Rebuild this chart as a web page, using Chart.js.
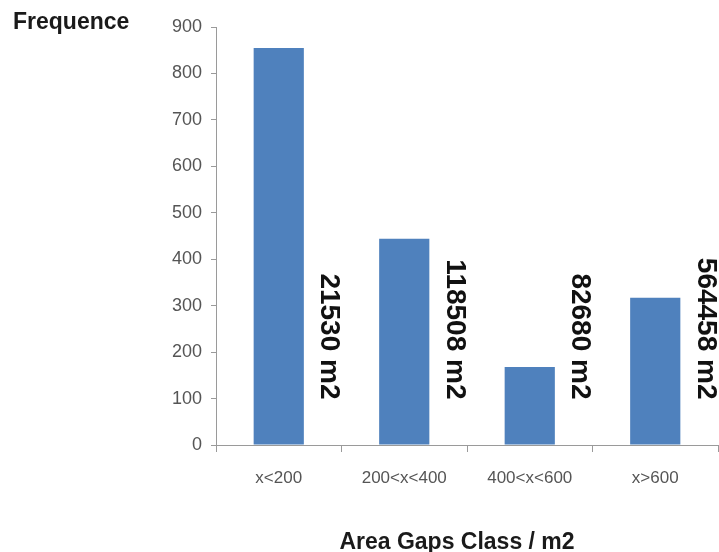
<!DOCTYPE html>
<html>
<head>
<meta charset="utf-8">
<title>Area Gaps Class</title>
<script src="https://cdn.jsdelivr.net/npm/chart.js@4/dist/chart.umd.min.js"></script>
<style>
  html, body { margin: 0; padding: 0; background: #ffffff; }
  #wrap { width: 719px; height: 552px; position: relative; }
</style>
</head>
<body>
<div id="wrap"><canvas id="chart" width="719" height="552"></canvas></div>
<script>
// Gap-size classes and how many gaps fall into each
const categories = ['x<200', '200<x<400', '400<x<600', 'x>600'];
const frequency = [855, 444, 168, 317];
// Total gap area per class, printed beside each bar
const totalArea = [21530, 118508, 82680, 564458];
const yTicks = { min: 0, max: 900, step: 100 };

const axisColor = '#9a9a9a';
const fontFamily = "'Liberation Sans', Arial, sans-serif";
const titleFont = "bold 23px " + fontFamily;

// Rotated area labels to the right of every bar, plus the two axis captions
const captions = {
  id: 'captions',
  afterDatasetsDraw(chart) {
    const ctx = chart.ctx;
    const meta = chart.getDatasetMeta(0);
    const yScale = chart.scales.y;
    const yEnd = yScale.getPixelForValue(98);
    ctx.save();
    ctx.fillStyle = '#111111';
    ctx.font = "bold 28px " + fontFamily;
    ctx.textAlign = 'right';
    ctx.textBaseline = 'middle';
    meta.data.forEach((bar, i) => {
      ctx.save();
      ctx.translate(bar.x + 50, yEnd);
      ctx.rotate(Math.PI / 2);
      ctx.fillText(totalArea[i] + ' m2', 0, 0);
      ctx.restore();
    });
    ctx.restore();
  },
  afterDraw(chart) {
    const ctx = chart.ctx;
    const xScale = chart.scales.x;
    ctx.save();
    ctx.fillStyle = '#1a1a1a';
    ctx.font = titleFont;
    ctx.textBaseline = 'alphabetic';
    ctx.textAlign = 'left';
    ctx.fillText('Frequence', 13, 29);
    ctx.textAlign = 'center';
    ctx.fillText('Area Gaps Class / m2', (xScale.left + xScale.right) / 2 - 10, 549);
    ctx.restore();
  }
};

new Chart(document.getElementById('chart'), {
  type: 'bar',
  data: {
    labels: categories,
    datasets: [{
      label: 'Frequence',
      data: frequency,
      backgroundColor: '#4F81BD',
      borderWidth: 0,
      barPercentage: 0.4,
      categoryPercentage: 1.0
    }]
  },
  options: {
    responsive: false,
    animation: false,
    devicePixelRatio: 1,
    layout: { padding: { top: 27, right: 1, left: 0, bottom: 0 } },
    plugins: {
      legend: { display: false },
      tooltip: { enabled: false }
    },
    scales: {
      x: {
        grid: { drawOnChartArea: false, drawTicks: true, tickLength: 7, color: axisColor, offset: true },
        border: { display: true, color: axisColor, width: 1 },
        ticks: { color: '#555555', font: { family: fontFamily, size: 17 }, padding: 16, maxRotation: 0, autoSkip: false },
        afterFit(scale) { scale.height = 107; }
      },
      y: {
        min: yTicks.min,
        max: yTicks.max,
        grid: { drawOnChartArea: false, drawTicks: true, tickLength: 5, color: axisColor },
        border: { display: true, color: axisColor, width: 1 },
        ticks: { stepSize: yTicks.step, color: '#555555', font: { family: fontFamily, size: 18 }, padding: 9 },
        afterFit(scale) { scale.width = 216; }
      }
    }
  },
  plugins: [captions]
});
</script>
</body>
</html>
